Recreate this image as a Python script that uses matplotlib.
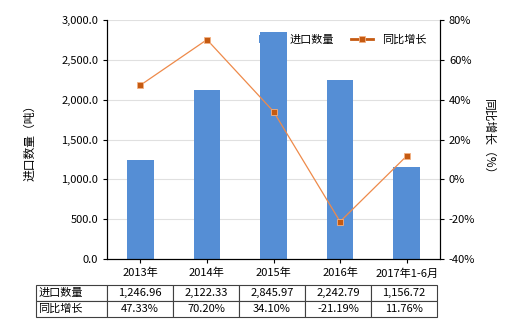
import matplotlib.pyplot as plt
import numpy as np

plt.rcParams['font.family'] = ['Noto Sans CJK SC', 'DejaVu Sans']

years = ['2013年', '2014年', '2015年', '2016年', '2017年1-6月']
qty = [1246.96, 2122.33, 2845.97, 2242.79, 1156.72]
growth = [47.33, 70.20, 34.10, -21.19, 11.76]
qty_txt = ['1,246.96', '2,122.33', '2,845.97', '2,242.79', '1,156.72']
growth_txt = ['47.33%', '70.20%', '34.10%', '-21.19%', '11.76%']

fig = plt.figure(figsize=(5.2, 3.3), dpi=100)
ax = fig.add_axes([0.206, 0.215, 0.64, 0.724])
x = np.arange(len(years))

ax.bar(x, qty, width=0.4, color='#558ed5', zorder=2, label='进口数量')
ax.set_ylim(0, 3000)
ax.set_xlim(-0.5, 4.5)
ax.set_yticks(np.arange(0, 3001, 500))
ax.set_yticklabels(['{:,.1f}'.format(v) for v in np.arange(0, 3001, 500)])
ax.grid(axis='y', color='#e0e0e0', lw=0.8, zorder=0)
ax.set_xticks(x)
ax.set_xticklabels(years)
ax.tick_params(labelsize=8, length=3)
ax.set_ylabel('进口数量（吨）', fontsize=8.5, labelpad=18)
ax.spines['top'].set_visible(False)

ax2 = ax.twinx()
ax2.plot(x, growth, color='#ee8a4a', lw=0.9, marker='s', ms=5,
         mfc='#c55a11', mec='#f4b183', mew=0.6, label='同比增长', zorder=3)
ax2.set_ylim(-40, 80)
ax2.set_yticks(np.arange(-40, 81, 20))
ax2.set_yticklabels(['{}%'.format(v) for v in np.arange(-40, 81, 20)])
ax2.tick_params(labelsize=8, length=3)
ax2.set_ylabel('同比增长（%）', fontsize=8.5, rotation=270, labelpad=14)
ax2.spines['top'].set_visible(False)

h1, l1 = ax.get_legend_handles_labels()
h2, l2 = ax2.get_legend_handles_labels()
leg = ax2.legend(h1 + h2, l1 + l2, loc='upper right', bbox_to_anchor=(0.99, 0.98),
                 ncol=2, frameon=False, fontsize=8, handlelength=2, columnspacing=1.5)
leg.legend_handles[1].set_linewidth(2)
leg.legend_handles[1].set_color('#c55a11')

cells = [['进口数量'] + qty_txt, ['同比增长'] + growth_txt]
tab = ax.table(cellText=cells, bbox=[-0.213, -0.243, 1.204, 0.134],
               colWidths=[71] + [66] * 5, cellLoc='center')
tab.auto_set_font_size(False)
tab.set_fontsize(8)
for (r, c), cell in tab.get_celld().items():
    cell.set_edgecolor('#404040')
    cell.set_linewidth(0.8)
    if c == 0:
        cell.get_text().set_horizontalalignment('left')
        cell.PAD = 0.03

fig.savefig('out.png', dpi=100)
